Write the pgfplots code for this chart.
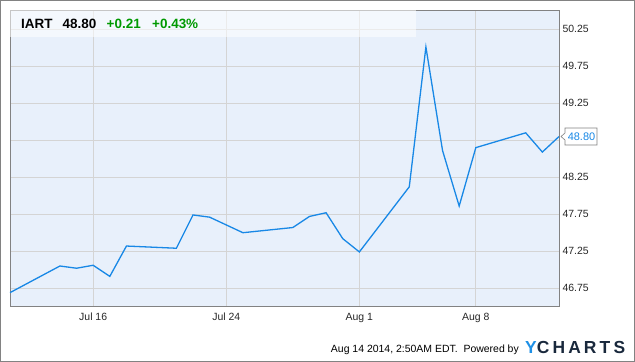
\documentclass[border=0pt]{standalone}
\usepackage{pgfplots}
\pgfplotsset{compat=1.18}
\usepackage{fontspec}
\setmainfont{Liberation Sans}
\newfontfamily\logofont[LetterSpace=18]{Liberation Sans}
\definecolor{plotbg}{RGB}{232,240,251}
\definecolor{gridc}{RGB}{212,212,212}
\definecolor{linec}{RGB}{24,136,230}
\definecolor{upgreen}{RGB}{0,153,0}
\definecolor{framec}{RGB}{130,130,130}
\definecolor{logoblue}{RGB}{30,144,230}
\definecolor{logodark}{RGB}{25,40,60}
\pgfplotstableread{
d v
11 46.69
14 47.05
15 47.02
16 47.06
17 46.91
18 47.32
21 47.29
22 47.74
23 47.71
25 47.50
28 47.57
29 47.72
30 47.77
31 47.42
32 47.24
35 48.12
36 50.01
37 48.61
38 47.86
39 48.65
42 48.85
43 48.59
44 48.80
}\prices
\begin{document}
\begin{tikzpicture}
\useasboundingbox (0bp,0bp) rectangle (635bp,362bp);
\draw[framec,line width=1.2bp] (0.8bp,0.8bp) rectangle (634.2bp,361.2bp);
\begin{axis}[
  at={(10bp,55.3bp)}, anchor=south west,
  scale only axis, width=549bp, height=296.7bp,
  xmin=11, xmax=44, ymin=46.5, ymax=50.51,
  axis background/.style={fill=plotbg},
  axis line style={draw=framec, line width=0.8bp},
  xtick={16,24,32,39}, xticklabels={Jul 16,Jul 24,Aug 1,Aug 8},
  ytick={46.75,47.25,47.75,48.25,48.75,49.25,49.75,50.25},
  yticklabels={46.75,47.25,47.75,48.25,{},49.25,49.75,50.25},
  yticklabel pos=right,
  major tick length=0pt,
  grid=major, major grid style={draw=gridc, line width=0.8bp},
  tick label style={font=\fontsize{10.5}{12}\selectfont, text=black!85},
  yticklabel style={anchor=west, xshift=0bp},
  xticklabel style={yshift=-3bp},
  clip=false,
]
\fill[white, opacity=0.55] (rel axis cs:0,1) rectangle ([yshift=-27bp,xshift=406bp]rel axis cs:0,1);
\addplot[linec, line width=1.3bp, mark=none] table[x=d,y=v] {\prices};
\draw[framec, fill=white, line width=0.6bp] ([xshift=2bp]axis cs:44,48.80) -- ++(4bp,3.5bp) -- ++(0bp,5bp) -- ++(32bp,0bp) -- ++(0bp,-17bp) -- ++(-32bp,0bp) -- ++(0bp,5bp) -- cycle;
\node[text=linec, font=\fontsize{11}{13}\selectfont, anchor=center] at ([xshift=22.5bp]axis cs:44,48.80) {48.80};
\end{axis}
\node[anchor=base west, font=\bfseries\fontsize{13.5}{15}\selectfont, inner sep=0pt] at (21bp,333.5bp) {IART};
\node[anchor=base west, font=\bfseries\fontsize{13.5}{15}\selectfont, inner sep=0pt] at (62.5bp,333.5bp) {48.80};
\node[anchor=base west, font=\bfseries\fontsize{13.5}{15}\selectfont, inner sep=0pt, text=upgreen] at (106.5bp,333.5bp) {+0.21};
\node[anchor=base west, font=\bfseries\fontsize{13.5}{15}\selectfont, inner sep=0pt, text=upgreen] at (152bp,333.5bp) {+0.43\%};
\node[anchor=base east, font=\fontsize{10.5}{12}\selectfont, inner sep=0pt] at (519bp,10bp) {Aug 14 2014, 2:50AM EDT.\ \ Powered by};
\node[anchor=base west, font=\logofont\bfseries\fontsize{17.5}{19}\selectfont, inner sep=0pt] at (525bp,9bp) {\textcolor{logoblue}{Y}\textcolor{logodark}{CHARTS}};
\end{tikzpicture}
\end{document}
